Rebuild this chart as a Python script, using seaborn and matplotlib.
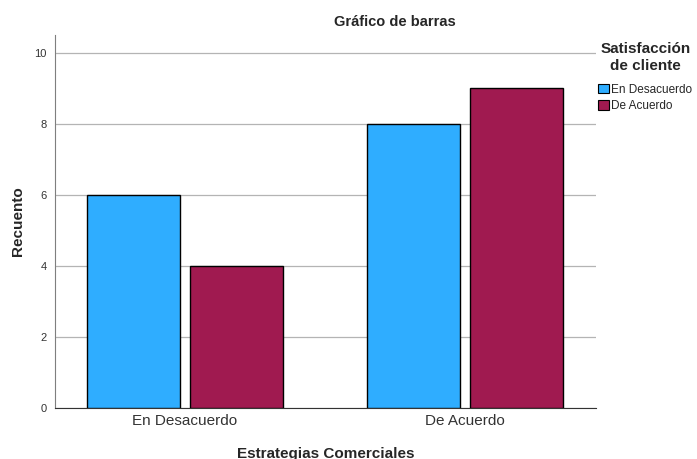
import matplotlib
matplotlib.use("Agg")
import matplotlib.pyplot as plt
import seaborn as sns
import pandas as pd
from matplotlib.patches import Patch

categories = ["En Desacuerdo", "De Acuerdo"]
hue_levels = ["En Desacuerdo", "De Acuerdo"]
counts_desacuerdo = [6, 8]
counts_acuerdo = [4, 9]
palette = ["#2FADFF", "#A01A50"]

df = pd.DataFrame({
    "Estrategias Comerciales": categories * 2,
    "Satisfacción de cliente": [hue_levels[0]] * 2 + [hue_levels[1]] * 2,
    "Recuento": counts_desacuerdo + counts_acuerdo,
})

sns.set_style("white")
plt.rcParams["font.family"] = ["Liberation Sans", "DejaVu Sans"]

fig = plt.figure(figsize=(6.97, 4.59), dpi=100)
ax = fig.add_axes([55 / 697, 51 / 459, 541 / 697, 373 / 459])

sns.barplot(data=df, x="Estrategias Comerciales", y="Recuento",
            hue="Satisfacción de cliente", hue_order=hue_levels,
            order=categories, palette=palette, saturation=1,
            width=0.74, gap=0.1,
            edgecolor="black", linewidth=1.0, ax=ax, legend=False, zorder=3)

ax.set_xlim(-0.464, 1.468)
ax.set_ylim(0, 10.5)
ax.set_yticks([0, 2, 4, 6, 8, 10])
ax.yaxis.grid(True, color="#B4B4B4", linewidth=0.9, zorder=0)
ax.set_axisbelow(True)
for side in ["top", "right"]:
    ax.spines[side].set_visible(False)
ax.spines["left"].set_color("#7F7F7F")
ax.spines["bottom"].set_color("#333333")
ax.tick_params(axis="y", length=0, labelsize=8, colors="#333333", pad=6)
ax.tick_params(axis="x", length=0, labelsize=11, colors="#333333", pad=4)

ax.set_xlabel("Estrategias Comerciales", fontsize=11, fontweight="bold")
ax.xaxis.set_label_coords(0.5, -0.105)
ax.set_ylabel("Recuento", fontsize=11, fontweight="bold")
ax.yaxis.set_label_coords(-0.056, 0.5)

fig.text(395 / 697, 1 - 22 / 459, "Gráfico de barras", ha="center",
         va="center", fontsize=10.5, fontweight="bold")

handles = [Patch(facecolor=c, edgecolor="black", linewidth=0.8) for c in palette]
leg = fig.legend(handles, hue_levels, title="Satisfacción\nde cliente",
                 loc="upper left", bbox_to_anchor=(596 / 697, 1 - 40 / 459),
                 frameon=False, fontsize=8.5, handlelength=0.9,
                 handleheight=0.9, handletextpad=0.2, labelspacing=0.4,
                 borderaxespad=0, borderpad=0.2,
                 title_fontproperties={"weight": "bold", "size": 11})
leg.get_title().set_multialignment("center")
leg._legend_box.sep = 8

fig.savefig("out.png", dpi=100)
